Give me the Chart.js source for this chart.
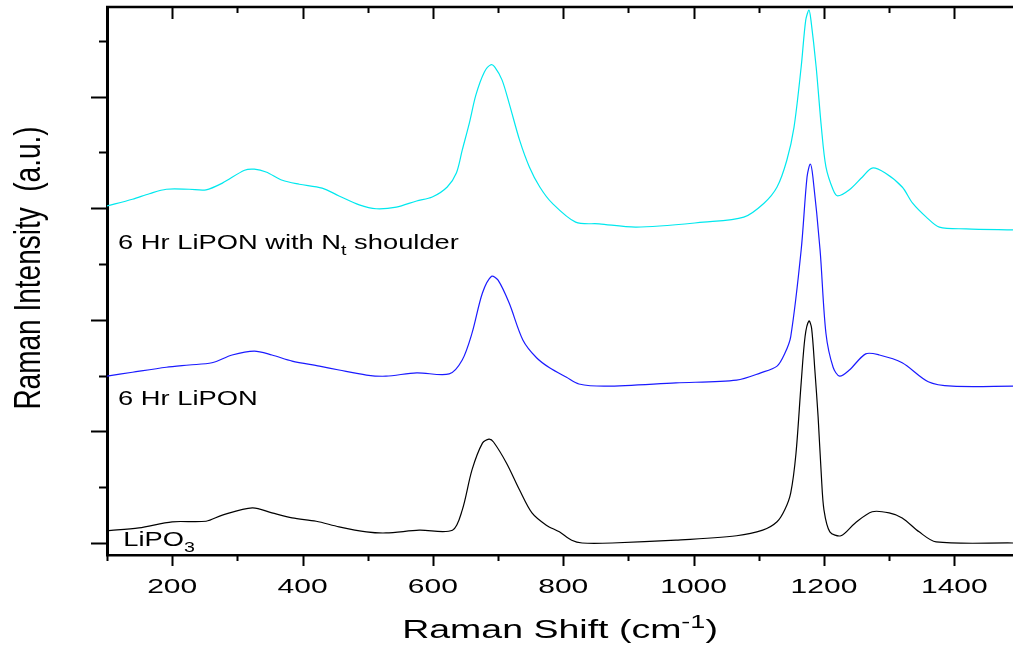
<!DOCTYPE html>
<html>
<head>
<meta charset="utf-8">
<script src="https://cdn.jsdelivr.net/npm/chart.js@4/dist/chart.umd.min.js"></script>
<style>
  html, body { margin: 0; padding: 0; background: #fff; }
  #wrap { width: 1013px; height: 647px; position: relative; }
</style>
</head>
<body>
<div id="wrap"><canvas id="raman"></canvas></div>
<script>
// Raman spectra, offset stacked (intensity in arbitrary units)
const cyanShift = [100, 139, 165, 191, 226, 252, 277, 311, 326, 344, 369, 395, 430, 456, 487, 513, 544, 575, 599, 622, 636, 645, 656, 666, 679, 689, 695, 706, 717, 733, 748, 764, 783, 819, 855, 912, 1015, 1077, 1108, 1128, 1143, 1154, 1165, 1172, 1177, 1180, 1188, 1196, 1203, 1214, 1221, 1239, 1259, 1274, 1294, 1320, 1336, 1357, 1377, 1418, 1490];
const cyanIntensity = [604, 616, 626, 634, 634, 633, 645, 668, 670, 665, 650, 643, 636, 622, 606, 599, 602, 613, 620, 638, 663, 704, 753, 803, 844, 857, 853, 830, 788, 722, 674, 638, 609, 575, 572, 566, 575, 584, 609, 638, 686, 745, 853, 937, 955, 937, 853, 745, 674, 633, 622, 633, 656, 672, 663, 638, 609, 584, 566, 563, 561];

const blueShift = [100, 139, 191, 226, 261, 292, 326, 353, 384, 426, 456, 498, 528, 575, 625, 645, 660, 676, 690, 700, 717, 738, 759, 779, 805, 824, 866, 973, 1066, 1103, 1128, 1140, 1149, 1165, 1174, 1179, 1183, 1194, 1203, 1214, 1224, 1239, 1264, 1285, 1320, 1360, 1397, 1490];
const blueIntensity = [299, 306, 315, 319, 323, 337, 344, 337, 326, 317, 310, 301, 299, 305, 303, 328, 376, 448, 478, 471, 430, 364, 332, 314, 297, 285, 281, 287, 292, 305, 317, 340, 370, 525, 656, 679, 656, 525, 376, 315, 299, 310, 339, 337, 323, 289, 281, 281];

const blackShift = [100, 149, 200, 252, 277, 323, 353, 384, 421, 456, 498, 528, 579, 630, 645, 660, 676, 686, 693, 713, 733, 752, 774, 794, 813, 829, 875, 973, 1066, 1106, 1128, 1140, 1149, 1157, 1165, 1171, 1177, 1181, 1186, 1191, 1196, 1200, 1209, 1226, 1248, 1274, 1300, 1320, 1346, 1372, 1490];
const blackIntensity = [22, 27, 38, 39, 50, 63, 54, 45, 39, 29, 20, 18, 23, 23, 59, 131, 179, 186, 181, 143, 95, 54, 32, 20, 5, 0, 0, 5, 13, 23, 38, 60, 90, 160, 287, 370, 398, 385, 310, 226, 120, 59, 20, 13, 36, 56, 54, 45, 20, 2, 0];

// axis ticks: every value gets a tick mark, majors also get a label (x) / longer mark
const xTicks = [100, 200, 300, 400, 500, 600, 700, 800, 900, 1000, 1100, 1200, 1300, 1400];
const xTickLabels = ["200", "400", "600", "800", "1000", "1200", "1400"];
const yTicks = [0, 100, 200, 300, 400, 500, 600, 700, 800, 900];

// curve labels, anchored at [shift, intensity] of their left baseline
const curveLabels = [
  { parts: [["6 Hr LiPON with N"], ["t", "sub"], [" shoulder"]], at: [117, 527] },
  { parts: [["6 Hr LiPON"]], at: [117, 247] },
  { parts: [["LiPO"], ["3", "sub"]], at: [125, -5] },
];

const toPoints = (xs, ys) => xs.map((x, i) => ({ x, y: ys[i] }));

const FONT = "'Liberation Sans', Arial, sans-serif";

// draws text made of parts (normal / sub / sup), stretched horizontally by sx
function drawParts(ctx, parts, x, y, size, sx, align) {
  ctx.save();
  const measure = (p) => {
    const s = p[1] ? size * 0.72 : size;
    ctx.font = `${s}px ${FONT}`;
    return ctx.measureText(p[0]).width;
  };
  const total = parts.reduce((sum, p) => sum + measure(p), 0);
  const start = align === "center" ? x - (total * sx) / 2 : x;
  ctx.translate(start, y);
  ctx.scale(sx, 1);
  ctx.textAlign = "left";
  ctx.textBaseline = "alphabetic";
  ctx.fillStyle = "#000";
  let cx = 0;
  parts.forEach((p) => {
    const w = measure(p);
    const dy = p[1] === "sub" ? size * 0.3 : p[1] === "sup" ? -size * 0.42 : 0;
    ctx.fillText(p[0], cx, dy);
    cx += w;
  });
  ctx.restore();
}

const framePlugin = {
  id: "frame",
  afterDraw(chart) {
    const { ctx, chartArea } = chart;
    const xs = chart.scales.x;
    const ys = chart.scales.y;
    const { left, right, top, bottom } = chartArea;

    ctx.save();
    ctx.strokeStyle = "#000";
    ctx.lineWidth = 2.5;
    ctx.beginPath();
    ctx.moveTo(left - 1, top);
    ctx.lineTo(right, top);
    ctx.stroke();

    ctx.lineWidth = 2;
    ctx.beginPath();
    xTicks.forEach((v) => {
      const px = Math.round(xs.getPixelForValue(v)) + 0.5;
      const major = v % 200 === 0;
      ctx.moveTo(px, bottom);
      ctx.lineTo(px, bottom + (major ? 11 : 6));
      ctx.moveTo(px, top);
      ctx.lineTo(px, top + (major ? 12 : 6));
    });
    yTicks.forEach((v) => {
      const py = Math.round(ys.getPixelForValue(v)) + 0.5;
      const major = v % 200 === 0;
      ctx.moveTo(left, py);
      ctx.lineTo(left - (major ? 16 : 8), py);
    });
    ctx.stroke();
    ctx.restore();

    // x tick labels
    xTickLabels.forEach((label) => {
      drawParts(ctx, [[label]], xs.getPixelForValue(Number(label)), bottom + 38, 21, 1.43, "center");
    });

    // axis titles
    drawParts(ctx, [["Raman Shift (cm"], ["-1", "sup"], [")"]], (left + right) / 2, 638, 25, 1.5, "center");

    ctx.save();
    ctx.translate(30, 268);
    ctx.rotate(-Math.PI / 2);
    ctx.scale(1, 1.3);
    ctx.font = `28px ${FONT}`;
    ctx.fillStyle = "#000";
    ctx.textAlign = "center";
    ctx.textBaseline = "middle";
    ctx.fillText("Raman Intensity  (a.u.)", 0, 0);
    ctx.restore();

    // curve labels
    curveLabels.forEach((lab) => {
      drawParts(ctx, lab.parts, xs.getPixelForValue(lab.at[0]), ys.getPixelForValue(lab.at[1]), 21, 1.3, "left");
    });
  },
};

const lineStyle = {
  borderWidth: 1.2,
  pointRadius: 0,
  fill: false,
  tension: 0.3,
};

new Chart(document.getElementById("raman"), {
  type: "line",
  data: {
    datasets: [
      { label: "6 Hr LiPON with Nt shoulder", data: toPoints(cyanShift, cyanIntensity), borderColor: "#00e8ee", ...lineStyle },
      { label: "6 Hr LiPON", data: toPoints(blueShift, blueIntensity), borderColor: "#1a1aff", ...lineStyle },
      { label: "LiPO3", data: toPoints(blackShift, blackIntensity), borderColor: "#000000", ...lineStyle },
    ],
  },
  options: {
    responsive: true,
    maintainAspectRatio: false,
    animation: false,
    layout: { padding: { top: 7, right: 0, left: 0, bottom: 0 } },
    plugins: { legend: { display: false }, tooltip: { enabled: false } },
    scales: {
      x: {
        type: "linear",
        min: 100,
        max: 1490,
        ticks: { display: false },
        grid: { display: false },
        border: { display: true, color: "#000", width: 2.5 },
        afterFit: (scale) => { scale.height = 92; },
      },
      y: {
        type: "linear",
        min: -21.5,
        max: 960.6,
        ticks: { display: false },
        grid: { display: false },
        border: { display: true, color: "#000", width: 3 },
        afterFit: (scale) => { scale.width = 107; },
      },
    },
  },
  plugins: [framePlugin],
});
</script>
</body>
</html>
